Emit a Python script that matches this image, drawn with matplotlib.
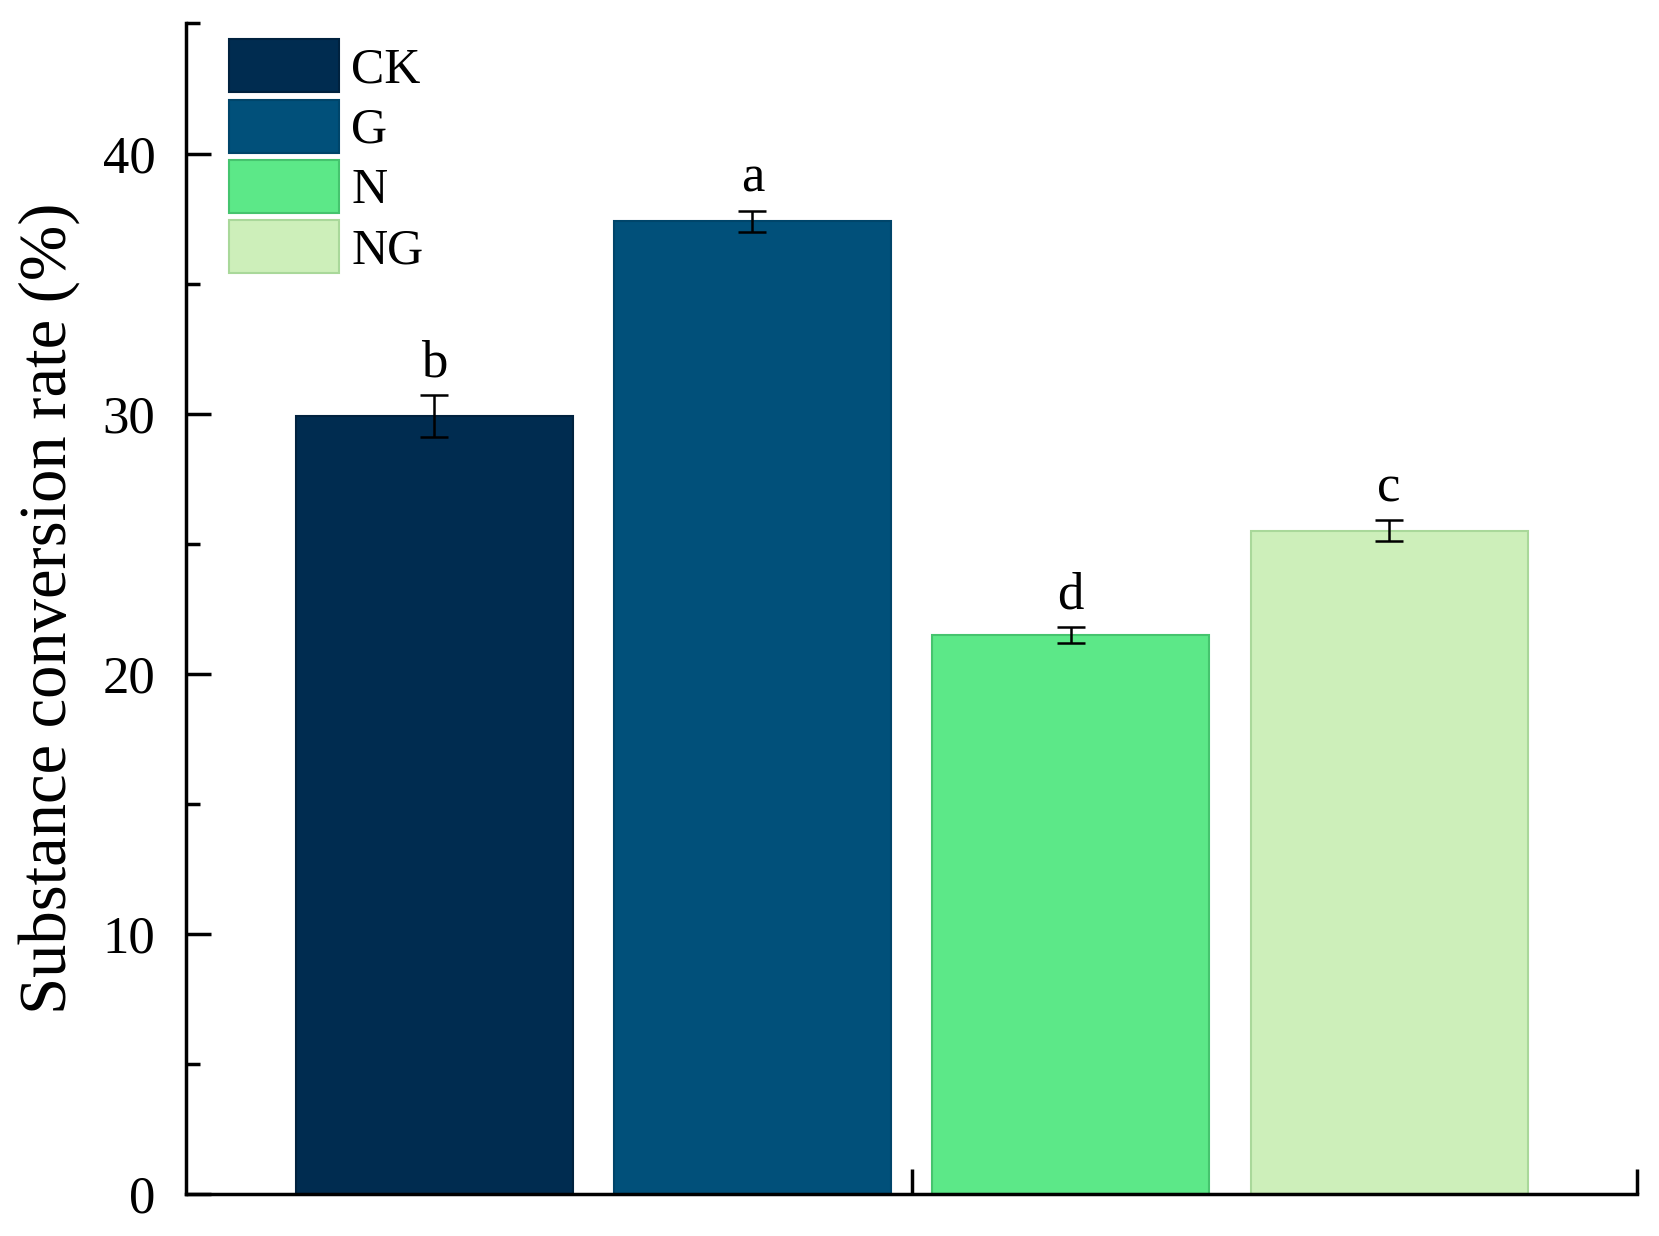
import matplotlib.pyplot as plt
from matplotlib.patches import Patch
from matplotlib.ticker import MultipleLocator

groups = ["CK", "G", "N", "NG"]
rates = [29.9, 37.4, 21.5, 25.5]
errors = [0.8, 0.4, 0.3, 0.4]
letters = ["b", "a", "d", "c"]
colors = ["#002C50", "#01507A", "#5CE888", "#CDEFBA"]
edges = ["#00223F", "#00456A", "#45C46E", "#A9D89A"]

plt.rcParams["font.family"] = ["Liberation Serif", "DejaVu Serif"]

fig = plt.figure(figsize=(16.59, 12.36), dpi=100)
ax = fig.add_axes([0.112, 0.034, 0.875, 0.947])

xs = [1, 2, 3, 4]
ax.bar(xs, rates, width=0.87, color=colors, edgecolor=edges, linewidth=1.5, zorder=2)
ax.errorbar(xs, rates, yerr=errors, fmt="none", ecolor="black", elinewidth=1.8,
            capsize=10, capthick=1.8, zorder=3)
for x, r, e, l in zip(xs, rates, errors, letters):
    ax.text(x, r + e + 0.3, l, ha="center", va="bottom", fontsize=38)

ax.set_xlim(0.22, 4.78)
ax.set_ylim(0, 45)
ax.set_xticks([2.5, 4.78])
ax.set_xticklabels([])
ax.yaxis.set_major_locator(MultipleLocator(10))
ax.yaxis.set_minor_locator(MultipleLocator(5))
ax.tick_params(axis="both", which="major", direction="in", length=18, width=2.5, labelsize=38)
ax.tick_params(axis="y", which="minor", direction="in", length=10, width=2.5)
ax.tick_params(axis="y", pad=22)
for s in ["top", "right"]:
    ax.spines[s].set_visible(False)
for s in ["left", "bottom"]:
    ax.spines[s].set_linewidth(2.5)

ax.set_ylabel("Substance conversion rate (%)", fontsize=48, labelpad=16)

handles = [Patch(facecolor=c, edgecolor=e, linewidth=1.5) for c, e in zip(colors, edges)]
ax.legend(handles, groups, loc="upper left", bbox_to_anchor=(0.009, 1.012), frameon=False,
          fontsize=36, handlelength=2.2, handleheight=1.25, labelspacing=0.12,
          handletextpad=0.25, borderaxespad=0.2)

fig.savefig("out.png", dpi=100)
